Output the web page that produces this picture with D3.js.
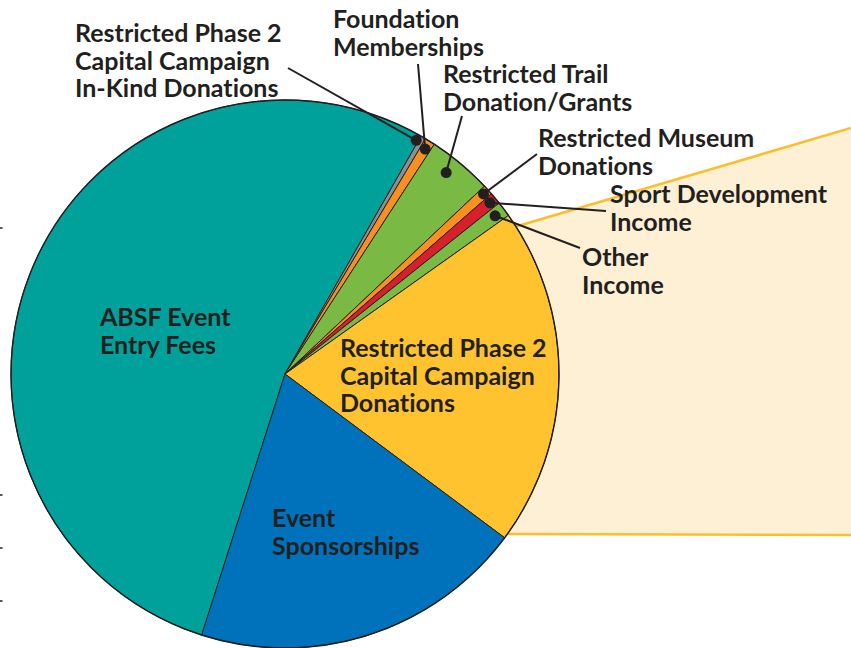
<!DOCTYPE html>
<html>
<head>
<meta charset="utf-8">
<script src="https://cdn.jsdelivr.net/npm/d3@7"></script>
<style>
  html, body { margin: 0; padding: 0; background: #fff; }
  svg { display: block; }
</style>
</head>
<body>
<svg id="chart"></svg>
<script>
// slices, clockwise starting at the lower-left edge of the teal slice
const categories = [
  "ABSF Event Entry Fees",
  "Restricted Phase 2 Capital Campaign In-Kind Donations",
  "Foundation Memberships",
  "Restricted Trail Donation/Grants",
  "Restricted Museum Donations",
  "Sport Development Income",
  "Other Income",
  "Restricted Phase 2 Capital Campaign Donations",
  "Event Sponsorships"
]
const shares = [53.3, 0.3, 0.6, 3.8, 0.6, 0.7, 0.9, 20.0, 19.7]
const colours = ["#00a19a", "#8d8e8f", "#f7901e", "#7ab943", "#f7901e", "#d81f2e", "#7ab943", "#fec32f", "#0072bb"]

// label text split in lines
const labelLines = [
  ["ABSF Event", "Entry Fees"],
  ["Restricted Phase 2", "Capital Campaign", "In-Kind Donations"],
  ["Foundation", "Memberships"],
  ["Restricted Trail", "Donation/Grants"],
  ["Restricted Museum", "Donations"],
  ["Sport Development", "Income"],
  ["Other", "Income"],
  ["Restricted Phase 2", "Capital Campaign", "Donations"],
  ["Event", "Sponsorships"]
]

const width = 851, height = 648
const cx = 285, cy = 374, radius = 274
const startDeg = 197.7

// where each label sits; callout = leader line end point, dotR = radius of the dot
const labelLayout = [
  {x: 100, y: 326},
  {x: 75, y: 42, callout: [288, 68], dotR: 268, dotShift: -1.0},
  {x: 333, y: 28, callout: [418, 64], dotR: 265},
  {x: 443, y: 83, callout: [462, 116], dotR: 258, dotShift: -1.2},
  {x: 538, y: 147, callout: [537, 154], dotR: 268},
  {x: 610, y: 203, callout: [606, 211], dotR: 267},
  {x: 582, y: 266, callout: [580, 248], dotR: 263},
  {x: 340, y: 357},
  {x: 272, y: 527}
]
const lineGap = 27.5

const svg = d3.select("#chart").attr("width", width).attr("height", height)

// cream call-out area behind the pie
const callout = svg.append("g")
callout.append("polygon")
  .attr("points", [[470, 240], [851, 128], [851, 535], [470, 534]].map(p => p.join(",")).join(" "))
  .attr("fill", "#fdf0d5")
callout.append("line")
  .attr("x1", 470).attr("y1", 240).attr("x2", 851).attr("y2", 128)
  .attr("stroke", "#fbbf2e").attr("stroke-width", 2.5)
callout.append("line")
  .attr("x1", 470).attr("y1", 534).attr("x2", 851).attr("y2", 535)
  .attr("stroke", "#fbbf2e").attr("stroke-width", 2.5)

// small marks at the left edge
svg.selectAll(".edge-mark")
  .data([228, 495, 548, 601])
  .join("line")
  .attr("class", "edge-mark")
  .attr("x1", 0).attr("x2", 2.5)
  .attr("y1", d => d).attr("y2", d => d)
  .attr("stroke", "#231f20").attr("stroke-width", 1.5)

const rad = d => d * Math.PI / 180

const pie = d3.pie()
  .sort(null)
  .value(d => d)
  .startAngle(rad(startDeg))
  .endAngle(rad(startDeg + 360))

const arcs = pie(shares)
const arc = d3.arc().innerRadius(0).outerRadius(radius)

const g = svg.append("g").attr("transform", `translate(${cx},${cy})`)

g.selectAll("path.slice")
  .data(arcs)
  .join("path")
  .attr("class", "slice")
  .attr("d", arc)
  .attr("fill", (d, i) => colours[i])
  .attr("stroke", "#231f20")
  .attr("stroke-width", 1)
  .attr("stroke-linejoin", "round")

// outer rim a bit heavier
g.append("circle")
  .attr("r", radius)
  .attr("fill", "none")
  .attr("stroke", "#231f20")
  .attr("stroke-width", 1.4)

// leader lines + dots for the small slices
const pointAt = (angle, r) => [cx + r * Math.sin(angle), cy - r * Math.cos(angle)]

const leaders = arcs.map((a, i) => ({a, i, lay: labelLayout[i]})).filter(d => d.lay.callout)

leaders.forEach(d => {
  const mid = (d.a.startAngle + d.a.endAngle) / 2 + rad(d.lay.dotShift || 0)
  const p = pointAt(mid, d.lay.dotR)
  svg.append("line")
    .attr("x1", p[0]).attr("y1", p[1])
    .attr("x2", d.lay.callout[0]).attr("y2", d.lay.callout[1])
    .attr("stroke", "#231f20").attr("stroke-width", 2)
  svg.append("circle")
    .attr("cx", p[0]).attr("cy", p[1])
    .attr("r", 5.5)
    .attr("fill", "#231f20")
})

// labels
const labels = svg.selectAll("text.label")
  .data(labelLines)
  .join("text")
  .attr("class", "label")
  .attr("x", (d, i) => labelLayout[i].x)
  .attr("y", (d, i) => labelLayout[i].y)
  .attr("fill", "#231f20")
  .style("font-family", "Lato, 'Open Sans', sans-serif")
  .style("font-weight", 700)
  .style("font-size", "25px")
  .style("font-variant-ligatures", "none")

labels.selectAll("tspan")
  .data((d, i) => d.map(t => ({t, x: labelLayout[i].x})))
  .join("tspan")
  .attr("x", d => d.x)
  .attr("dy", (d, j) => j === 0 ? 0 : lineGap)
  .text(d => d.t)
</script>
</body>
</html>
